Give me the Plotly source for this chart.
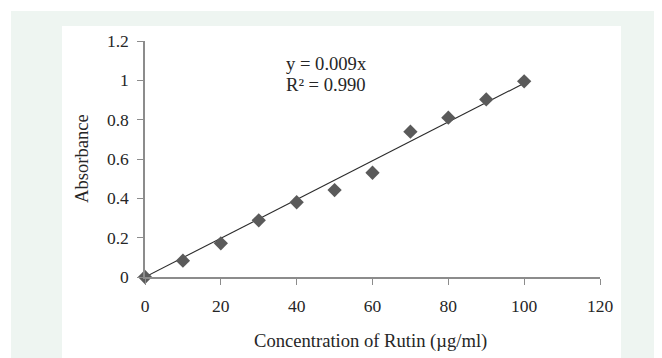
import numpy as np
import plotly.graph_objects as go

conc = [0, 10, 20, 30, 40, 50, 60, 70, 80, 90, 100]
absorbance = [0, 0.083, 0.171, 0.288, 0.38, 0.442, 0.53, 0.739, 0.81, 0.903, 0.995]
x_ticks = [0, 20, 40, 60, 80, 100, 120]
y_ticks = [0, 0.2, 0.4, 0.6, 0.8, 1, 1.2]
y_tick_labels = ["0", "0.2", "0.4", "0.6", "0.8", "1", "1.2"]
x_title = "Concentration of Rutin (µg/ml)"
y_title = "Absorbance"
equation_line = "y = 0.009x"
r2_line = "R² = 0.990"

x_arr = np.array(conc, dtype=float)
y_arr = np.array(absorbance, dtype=float)
slope = float((x_arr * y_arr).sum() / (x_arr ** 2).sum())
fit_x = [min(conc), max(conc)]
fit_y = [slope * v for v in fit_x]

FONT = "Liberation Serif, Times New Roman, serif"
FS = 17.5
FS_T = 18.6
TXT = "#262626"
AXIS_GRAY = "#8c8c8c"

fig = go.Figure()
fig.add_trace(go.Scatter(
    x=fit_x, y=fit_y, mode="lines",
    line=dict(color="#2b2b2b", width=1.1),
    showlegend=False, hoverinfo="skip", cliponaxis=False,
))
fig.add_trace(go.Scatter(
    x=conc, y=absorbance, mode="markers",
    marker=dict(symbol="diamond", size=11, color="#5a5a5a"),
    showlegend=False, hoverinfo="skip", cliponaxis=False,
))

OFF = 8  # page body margin
W, H = 662 - OFF, 358 - OFF
L, R, T, B = 145 - OFF, 662 - 600, 41 - OFF, 358 - 277
pw, ph = W - L - R, H - T - B

def px(sx):
    return (sx - OFF - L) / pw

def py(sy):
    return (H - B - (sy - OFF)) / ph

shapes = [
    dict(type="rect", xref="paper", yref="paper", x0=px(11), x1=px(670), y0=py(370), y1=py(11),
         fillcolor="#eef5f1", line=dict(width=0), layer="below"),
    dict(type="rect", xref="paper", yref="paper", x0=px(62), x1=px(621), y0=py(370), y1=py(26),
         fillcolor="#ffffff", line=dict(width=0), layer="below"),
]

def note(text, sx, sy, xanchor="left", angle=0, size=FS_T):
    return dict(text=text, xref="paper", yref="paper", x=px(sx), y=py(sy),
                xanchor=xanchor, yanchor="middle", showarrow=False, textangle=angle,
                font=dict(family=FONT, size=size, color=TXT))

fig.update_layout(
    width=W, height=H,
    margin=dict(l=L, r=R, t=T, b=B, pad=0),
    paper_bgcolor="#ffffff", plot_bgcolor="rgba(0,0,0,0)",
    font=dict(family=FONT, size=FS, color=TXT),
    shapes=shapes,
    xaxis=dict(
        range=[0, 120], tickvals=x_ticks, ticks="outside", ticklen=6, tickcolor=AXIS_GRAY,
        showline=True, linecolor=AXIS_GRAY, linewidth=1.5, showgrid=False, zeroline=False,
        tickfont=dict(size=FS), ticklabelstandoff=6,
    ),
    yaxis=dict(
        range=[0, 1.2], tickvals=y_ticks, ticktext=y_tick_labels, ticks="outside", ticklen=6,
        tickcolor=AXIS_GRAY, showline=True, linecolor=AXIS_GRAY, linewidth=1.5,
        showgrid=False, zeroline=False, tickfont=dict(size=FS), ticklabelstandoff=5,
    ),
    annotations=[
        note(equation_line, 284, 64),
        note(r2_line, 284, 84),
        note(x_title, 370, 341, xanchor="center"),
        note(y_title, 81, 159, xanchor="center", angle=-90),
    ],
)

fig.write_html("out.html")
